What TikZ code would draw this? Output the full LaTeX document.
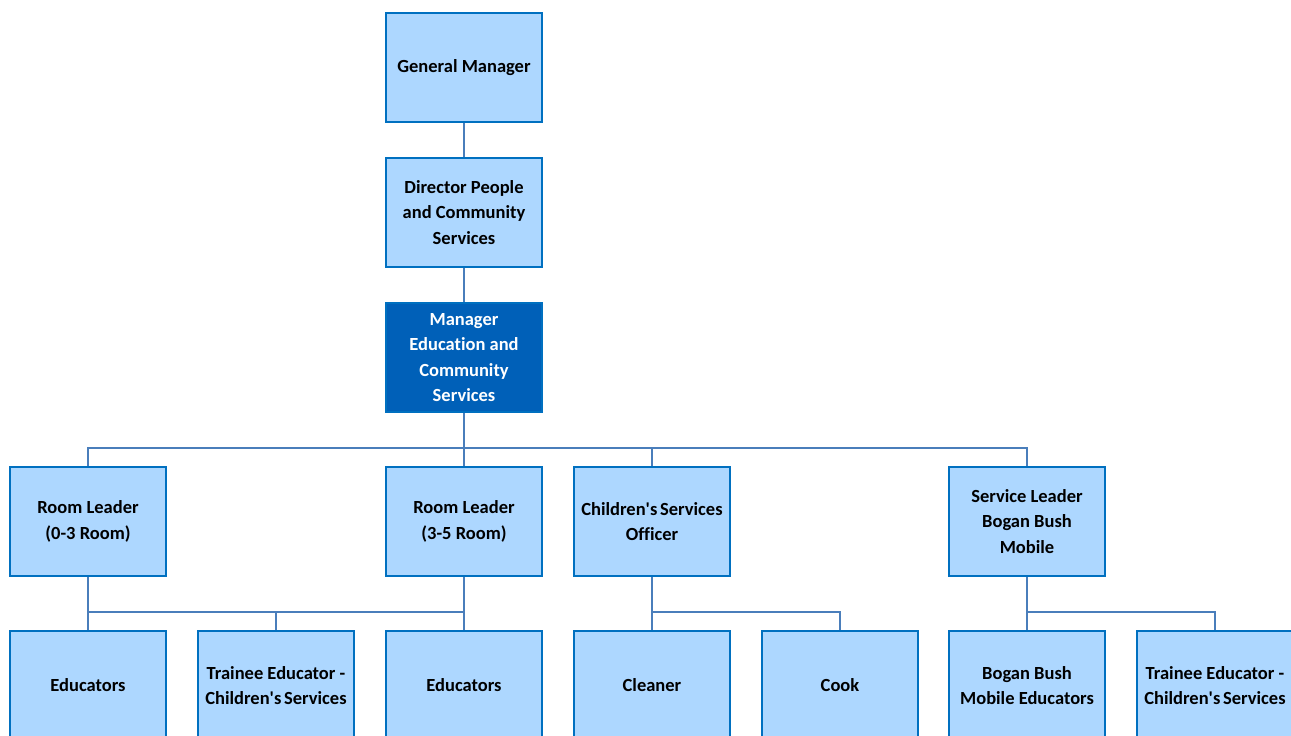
\documentclass[tikz,border=0pt]{standalone}
\usepackage{fontspec}
\setmainfont{Carlito}[Ligatures={NoCommon}]
\definecolor{boxfill}{HTML}{ADD7FF}
\definecolor{boxline}{HTML}{0070C0}
\definecolor{darkfill}{HTML}{0060B8}
\definecolor{connline}{HTML}{4A7EBB}
\newcommand{\apos}{\textquotesingle}
\tikzset{
  orgbox/.style={draw=boxline, line width=2.2pt, fill=boxfill, rectangle,
    minimum width=156pt, minimum height=109pt, inner sep=0pt,
    align=center, text=black, font=\fontsize{18.5}{25.5}\selectfont\bfseries},
  darkbox/.style={orgbox, fill=darkfill, text=white},
  conn/.style={draw=connline, line width=1.4pt}
}
\begin{document}
\begin{tikzpicture}[x=1pt,y=-1pt]
\clip (0,0) rectangle (1291,736);
\fill[white] (0,0) rectangle (1291,736);
% level 0-2
\node[orgbox] (gm) at (464,67.5) {General Manager};
\node[orgbox] (dir) at (464,212.5) {Director People\\and Community\\Services};
\node[darkbox] (mgr) at (464,357.5) {Manager\\Education and\\Community\\Services};
% level 3
\node[orgbox] (rl1) at (88,521.5) {Room Leader\\(0-3 Room)};
\node[orgbox] (rl2) at (464,521.5) {Room Leader\\(3-5 Room)};
\node[orgbox] (cso) at (652,521.5) {Children\apos s\hspace{0.15em}Services\\Officer};
\node[orgbox] (sl) at (1027,521.5) {Service Leader\\Bogan Bush\\Mobile};
% level 4
\node[orgbox] (ed1) at (88,685.5) {Educators};
\node[orgbox] (tr1) at (276,685.5) {Trainee Educator -\\Children\apos s\hspace{0.15em}Services};
\node[orgbox] (ed2) at (464,685.5) {Educators};
\node[orgbox] (cln) at (652,685.5) {Cleaner};
\node[orgbox] (cook) at (840,685.5) {Cook};
\node[orgbox] (bb) at (1027,685.5) {Bogan Bush\\Mobile Educators};
\node[orgbox] (tr2) at (1215,685.5) {Trainee Educator -\\Children\apos s\hspace{0.15em}Services};
% bus lines
\coordinate (bus1) at (0,448);
\coordinate (bus2) at (0,612);
\draw[conn] (gm.south) -- (dir.north);
\draw[conn] (dir.south) -- (mgr.north);
\draw[conn] (mgr.south) -- (mgr.south|-bus1);
\draw[conn] (rl1.north) -- (rl1.north|-bus1) -- (sl.north|-bus1) -- (sl.north);
\draw[conn] (rl2.north) -- (rl2.north|-bus1);
\draw[conn] (cso.north) -- (cso.north|-bus1);
\draw[conn] (rl1.south) -- (rl1.south|-bus2) -- (rl2.south|-bus2) -- (rl2.south);
\draw[conn] (ed1.north) -- (ed1.north|-bus2);
\draw[conn] (tr1.north) -- (tr1.north|-bus2);
\draw[conn] (ed2.north) -- (ed2.north|-bus2);
\draw[conn] (cso.south) -- (cso.south|-bus2) -- (cook.north|-bus2) -- (cook.north);
\draw[conn] (cln.north) -- (cln.north|-bus2);
\draw[conn] (sl.south) -- (sl.south|-bus2) -- (tr2.north|-bus2) -- (tr2.north);
\draw[conn] (bb.north) -- (bb.north|-bus2);
\end{tikzpicture}
\end{document}
